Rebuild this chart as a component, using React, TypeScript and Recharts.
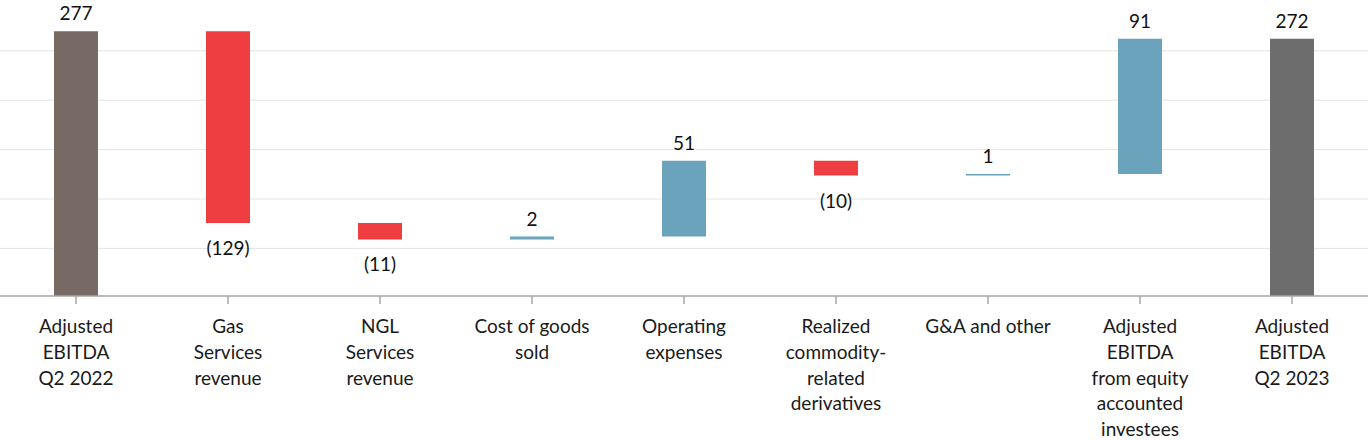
import { Bar, BarChart, CartesianGrid, Cell, LabelList, XAxis, YAxis } from "recharts";

const FONT = "Lato, 'Open Sans', sans-serif";
const TOTAL_START = "#776A64";
const TOTAL_END = "#6D6D6D";
const DOWN = "#EE3E42";
const UP = "#6BA3BD";
const GRIDLINE = "#E4E4E4";
const AXIS = "#A6A6A6";

const CATEGORIES = [
  "Adjusted\nEBITDA\nQ2 2022",
  "Gas\nServices\nrevenue",
  "NGL\nServices\nrevenue",
  "Cost of goods\nsold",
  "Operating\nexpenses",
  "Realized\ncommodity-\nrelated\nderivatives",
  "G&A and other",
  "Adjusted\nEBITDA\nfrom equity\naccounted\ninvestees",
  "Adjusted\nEBITDA\nQ2 2023",
];
const VALUES = [277, -129, -11, 2, 51, -10, 1, 91, 272];
const IS_TOTAL = [true, false, false, false, false, false, false, false, true];
const GRID_TICKS = [131, 164.2, 197.4, 230.6, 263.8];

// waterfall: each step floats from the running total
let running = 0;
const rows = CATEGORIES.map((name, i) => {
  const v = VALUES[i];
  let range: [number, number];
  if (IS_TOTAL[i]) {
    range = [0, v];
    running = v;
  } else {
    const end = running + v;
    range = [Math.min(running, end), Math.max(running, end)];
    running = end;
  }
  const fill = IS_TOTAL[i] ? (i === 0 ? TOTAL_START : TOTAL_END) : v < 0 ? DOWN : UP;
  return { name, value: v, range, fill };
});

function CategoryTick({ x, y, payload }: { x?: number; y?: number; payload?: { value: string } }) {
  const lines = String(payload?.value ?? "").split("\n");
  return (
    <text x={x} y={y} textAnchor="middle" fontFamily={FONT} fontSize={19} fill="#1A1A1A">
      {lines.map((line, i) => (
        <tspan key={i} x={x} dy={i === 0 ? 27 : 25.8}>
          {line}
        </tspan>
      ))}
    </text>
  );
}

function ValueLabel(props: any) {
  const { x, y, width, height, value } = props;
  const cx = Number(x) + Number(width) / 2;
  const neg = Number(value) < 0;
  const ty = neg ? Number(y) + Number(height) + 32 : Number(y) - 11;
  return (
    <text x={cx} y={ty} textAnchor="middle" fontFamily={FONT} fontSize={19} fill="#111">
      {neg ? `(${Math.abs(value)})` : value}
    </text>
  );
}

export default function App() {
  return (
    <div style={{ position: "absolute", left: 0, top: 0 }}>
      <BarChart width={1368} height={440} data={rows} margin={{ top: 0, right: 0, bottom: 0, left: 0 }}>
        <CartesianGrid vertical={false} stroke={GRIDLINE} horizontalValues={GRID_TICKS} />
        <YAxis hide type="number" domain={[99, 298]} ticks={GRID_TICKS} allowDataOverflow />
        <XAxis
          dataKey="name"
          interval={0}
          height={144}
          tickSize={8}
          tick={<CategoryTick />}
          axisLine={{ stroke: AXIS, strokeWidth: 1.5 }}
          tickLine={{ stroke: AXIS, strokeWidth: 1.5 }}
        />
        <Bar dataKey="range" barSize={44} isAnimationActive={false}>
          {rows.map((r, i) => (
            <Cell key={i} fill={r.fill} />
          ))}
          <LabelList dataKey="value" content={<ValueLabel />} />
        </Bar>
      </BarChart>
    </div>
  );
}
